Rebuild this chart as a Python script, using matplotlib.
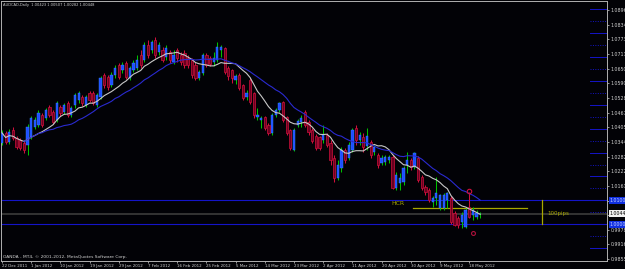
import numpy as np
import pandas as pd
import matplotlib
matplotlib.use("Agg")
import matplotlib.pyplot as plt
import matplotlib.transforms as mtransforms
from matplotlib import font_manager

# AUDCAD, Daily
opens = [
    1.0340, 1.0382, 1.0344, 1.0395, 1.0361, 1.0353, 1.0340, 1.0332, 1.0365, 1.0407,
    1.0416, 1.0457, 1.0445, 1.0491, 1.0470, 1.0436, 1.0491, 1.0470, 1.0507, 1.0457,
    1.0499, 1.0520, 1.0533, 1.0499, 1.0549, 1.0549, 1.0499, 1.0533, 1.0624, 1.0616,
    1.0583, 1.0624, 1.0666, 1.0645, 1.0675, 1.0612, 1.0645, 1.0654, 1.0708, 1.0687,
    1.0750, 1.0729, 1.0771, 1.0721, 1.0729, 1.0700, 1.0721, 1.0679, 1.0729, 1.0708,
    1.0716, 1.0696, 1.0687, 1.0666, 1.0612, 1.0633, 1.0708, 1.0696, 1.0679, 1.0687,
    1.0729, 1.0737, 1.0654, 1.0645, 1.0604, 1.0624, 1.0583, 1.0533, 1.0604, 1.0549,
    1.0449, 1.0436, 1.0449, 1.0416, 1.0382, 1.0457, 1.0478, 1.0512, 1.0449, 1.0395,
    1.0311, 1.0416, 1.0428, 1.0470, 1.0428, 1.0395, 1.0370, 1.0365, 1.0353, 1.0374,
    1.0340, 1.0278, 1.0194, 1.0236, 1.0311, 1.0278, 1.0311, 1.0403, 1.0353, 1.0365,
    1.0328, 1.0344, 1.0302, 1.0290, 1.0257, 1.0261, 1.0269, 1.0282, 1.0152, 1.0173,
    1.0177, 1.0248, 1.0269, 1.0240, 1.0278, 1.0198, 1.0156, 1.0144, 1.0094, 1.0110,
    1.0069, 1.0069, 1.0102, 1.0110, 1.0048, 1.0027, 1.0011, 0.9989, 1.0073, 1.0039,
    1.0031, 1.00423,
]
highs = [
    1.0395, 1.0390, 1.0399, 1.0407, 1.0370, 1.0361, 1.0349, 1.0420, 1.0453, 1.0449,
    1.0478, 1.0466, 1.0486, 1.0499, 1.0478, 1.0516, 1.0499, 1.0507, 1.0516, 1.0495,
    1.0549, 1.0558, 1.0541, 1.0541, 1.0558, 1.0558, 1.0549, 1.0620, 1.0633, 1.0624,
    1.0637, 1.0666, 1.0675, 1.0679, 1.0683, 1.0662, 1.0687, 1.0708, 1.0729, 1.0762,
    1.0771, 1.0771, 1.0783, 1.0762, 1.0741, 1.0750, 1.0729, 1.0729, 1.0737, 1.0721,
    1.0729, 1.0708, 1.0696, 1.0679, 1.0645, 1.0716, 1.0716, 1.0704, 1.0721, 1.0762,
    1.0750, 1.0741, 1.0662, 1.0650, 1.0629, 1.0633, 1.0587, 1.0562, 1.0612, 1.0553,
    1.0486, 1.0453, 1.0453, 1.0424, 1.0466, 1.0486, 1.0512, 1.0516, 1.0453, 1.0399,
    1.0403, 1.0441, 1.0457, 1.0478, 1.0436, 1.0403, 1.0378, 1.0370, 1.0416, 1.0382,
    1.0353, 1.0290, 1.0269, 1.0323, 1.0319, 1.0344, 1.0403, 1.0416, 1.0386, 1.0382,
    1.0403, 1.0353, 1.0332, 1.0298, 1.0290, 1.0290, 1.0290, 1.0290, 1.0219, 1.0215,
    1.0244, 1.0302, 1.0278, 1.0302, 1.0286, 1.0206, 1.0165, 1.0152, 1.0119, 1.0198,
    1.0127, 1.0131, 1.0135, 1.0119, 1.0056, 1.0035, 1.0052, 1.0069, 1.0135, 1.0073,
    1.0060, 1.00507,
]
lows = [
    1.0332, 1.0336, 1.0336, 1.0353, 1.0315, 1.0311, 1.0298, 1.0290, 1.0357, 1.0399,
    1.0407, 1.0407, 1.0436, 1.0449, 1.0420, 1.0428, 1.0453, 1.0461, 1.0449, 1.0449,
    1.0486, 1.0507, 1.0495, 1.0491, 1.0512, 1.0499, 1.0491, 1.0524, 1.0570, 1.0562,
    1.0574, 1.0612, 1.0608, 1.0633, 1.0608, 1.0604, 1.0637, 1.0645, 1.0654, 1.0679,
    1.0696, 1.0716, 1.0696, 1.0708, 1.0679, 1.0687, 1.0675, 1.0670, 1.0679, 1.0666,
    1.0654, 1.0654, 1.0612, 1.0604, 1.0604, 1.0624, 1.0658, 1.0662, 1.0662, 1.0679,
    1.0700, 1.0629, 1.0604, 1.0591, 1.0587, 1.0562, 1.0520, 1.0520, 1.0503, 1.0445,
    1.0436, 1.0403, 1.0395, 1.0374, 1.0374, 1.0449, 1.0470, 1.0428, 1.0374, 1.0311,
    1.0307, 1.0407, 1.0407, 1.0407, 1.0374, 1.0340, 1.0311, 1.0311, 1.0340, 1.0323,
    1.0248, 1.0177, 1.0186, 1.0219, 1.0257, 1.0269, 1.0302, 1.0332, 1.0332, 1.0302,
    1.0311, 1.0278, 1.0290, 1.0236, 1.0248, 1.0248, 1.0257, 1.0148, 1.0144, 1.0144,
    1.0165, 1.0215, 1.0227, 1.0232, 1.0177, 1.0144, 1.0123, 1.0094, 1.0073, 1.0081,
    1.0060, 1.0060, 1.0069, 1.0002, 0.9994, 0.9985, 0.9985, 0.9985, 1.0027, 1.0020,
    1.0023, 1.00282,
]
closes = [
    1.0382, 1.0344, 1.0386, 1.0361, 1.0323, 1.0319, 1.0311, 1.0407, 1.0445, 1.0436,
    1.0466, 1.0416, 1.0478, 1.0457, 1.0428, 1.0507, 1.0466, 1.0499, 1.0457, 1.0486,
    1.0541, 1.0549, 1.0507, 1.0533, 1.0520, 1.0507, 1.0541, 1.0612, 1.0583, 1.0574,
    1.0624, 1.0654, 1.0616, 1.0666, 1.0616, 1.0654, 1.0675, 1.0687, 1.0666, 1.0750,
    1.0708, 1.0762, 1.0708, 1.0750, 1.0687, 1.0737, 1.0687, 1.0708, 1.0696, 1.0679,
    1.0666, 1.0666, 1.0624, 1.0612, 1.0637, 1.0708, 1.0666, 1.0670, 1.0696, 1.0741,
    1.0741, 1.0637, 1.0620, 1.0612, 1.0620, 1.0570, 1.0528, 1.0549, 1.0512, 1.0457,
    1.0457, 1.0445, 1.0403, 1.0382, 1.0457, 1.0478, 1.0507, 1.0436, 1.0382, 1.0319,
    1.0395, 1.0432, 1.0445, 1.0416, 1.0386, 1.0349, 1.0319, 1.0319, 1.0374, 1.0332,
    1.0269, 1.0194, 1.0248, 1.0311, 1.0269, 1.0332, 1.0395, 1.0353, 1.0374, 1.0323,
    1.0370, 1.0290, 1.0323, 1.0248, 1.0278, 1.0282, 1.0282, 1.0152, 1.0206, 1.0194,
    1.0236, 1.0269, 1.0240, 1.0298, 1.0186, 1.0152, 1.0135, 1.0102, 1.0110, 1.0131,
    1.0123, 1.0123, 1.0131, 1.0011, 0.9998, 0.9998, 1.0039, 1.0060, 1.0031, 1.0060,
    1.0048, 1.00448,
]

date_labels = [
    "22 Dec 2011", "1 Jan 2012", "10 Jan 2012", "19 Jan 2012", "29 Jan 2012",
    "7 Feb 2012", "16 Feb 2012", "25 Feb 2012", "5 Mar 2012", "14 Mar 2012",
    "23 Mar 2012", "2 Apr 2012", "11 Apr 2012", "20 Apr 2012", "30 Apr 2012",
    "9 May 2012", "18 May 2012",
]
date_label_bars = [0, 8, 16, 24, 32, 40, 48, 56, 64, 72, 80, 88, 96, 104, 112, 120, 128]

price_ticks = [
    1.08960, 1.08345, 1.07730, 1.07115, 1.06500, 1.05900, 1.05285, 1.04670, 1.04055,
    1.03440, 1.02825, 1.02225, 1.01610, 1.00995, 1.00380, 0.99780, 0.99165, 0.98550,
]
round_levels = np.round(np.arange(0.9900, 1.0901, 0.0050), 4)   # 50-pip level marks
range_top, range_bottom = 1.0100, 1.0000                        # 100 pip box
hcr_price, hcr_start, hcr_end = 1.0068, 112.6, 143.8
fractal_up_bar, fractal_down_bar = 128, 129

BG = "#020206"
FG = "#d0d0d0"
AXIS = "#b0b0b0"
BULL_WICK = "#00c000"
BULL_BODY = "#1e4cff"
BEAR_WICK = "#d0103c"
BEAR_BODY = "#6a0020"
MA_FAST = "#c8c8c8"
MA_SLOW = "#2a2ad0"
LEVEL = "#1414c8"
YELLOW = "#a8a800"

names = {f.name for f in font_manager.fontManager.ttflist}
FONT = "Liberation Sans Narrow" if "Liberation Sans Narrow" in names else "DejaVu Sans"
plt.rcParams["font.family"] = FONT
FS_Y = 3.4
FS_X = 2.9

o = np.array(opens)
h = np.array(highs)
l = np.array(lows)
c = np.array(closes)
x = np.arange(len(c))
up = c >= o

cs = pd.Series(closes)
ma_fast = cs.rolling(10, min_periods=1).mean()
ma_slow = cs.rolling(20, min_periods=7).mean()

fig = plt.figure(figsize=(6.25, 2.69), dpi=100, facecolor=BG)
ax = fig.add_axes([1 / 625, 8 / 269, 606 / 625, 260 / 269], facecolor=BG)
ax.set_xlim(-0.27, 165.75)
ax.set_ylim(0.98466, 1.09336)

# round-number levels: short marks at the right edge, two of them full width
for lv in round_levels:
    solid = abs(lv * 100 - round(lv * 100)) < 1e-6
    if lv in (range_top, range_bottom):
        ax.axhline(lv, color=LEVEL, lw=0.8, zorder=1)
    else:
        ax.plot([161.0, 165.75], [lv, lv], color=LEVEL, lw=0.7,
                ls="-" if solid else (0, (1, 1.5)), zorder=1)

# bid line
ax.axhline(closes[-1], color="#3c3c3c", lw=1.2, zorder=1)

# candles
ax.vlines(x[up], l[up], h[up], color=BULL_WICK, lw=0.75, zorder=3)
ax.vlines(x[~up], l[~up], h[~up], color=BEAR_WICK, lw=0.75, zorder=3)
body_lo = np.minimum(o, c)
body_h = np.maximum(np.abs(c - o), 0.00025)
ax.bar(x[up], body_h[up], bottom=body_lo[up], width=0.62, color=BULL_BODY,
       edgecolor="#3a8aff", lw=0.3, zorder=4)
ax.bar(x[~up], body_h[~up], bottom=body_lo[~up], width=0.62, color=BEAR_BODY,
       edgecolor=BEAR_WICK, lw=0.5, zorder=4)

# moving averages
ax.plot(x, ma_fast, color=MA_FAST, lw=0.8, zorder=5)
ax.plot(x, ma_slow, color=MA_SLOW, lw=0.8, zorder=5)

# HCR line and 100 pips marker
ax.plot([hcr_start, hcr_end], [hcr_price, hcr_price], color=YELLOW, lw=0.9, zorder=2)
ax.text(hcr_start - 5.8, hcr_price + 0.0008, "HCR", color=YELLOW, fontsize=4.4,
        ha="left", va="bottom")
ax.plot([147.9, 147.9], [range_bottom, range_top], color=YELLOW, lw=0.9, zorder=2)
ax.text(149.4, (range_top + range_bottom) / 2 - 0.0005, "100pips", color=YELLOW,
        fontsize=4.0, ha="left", va="center")

# fractal marks
ax.plot(fractal_up_bar, highs[fractal_up_bar] + 0.0003, marker="o", ms=3.2,
        mfc="none", mec="#d0103c", mew=0.8, zorder=6)
ax.plot(fractal_down_bar, lows[fractal_down_bar] - 0.0055, marker="o", ms=2.8,
        mfc="none", mec="#b0103c", mew=0.8, zorder=6)

# axes styling
for side in ["left", "top", "right", "bottom"]:
    ax.spines[side].set_color(AXIS)
    ax.spines[side].set_linewidth(0.7)

ax.yaxis.tick_right()
ax.set_yticks(price_ticks)
ax.set_yticklabels([f"{v:.5f}" for v in price_ticks])
ax.set_xticks(date_label_bars)
ax.set_xticklabels(date_labels)
for lbl in ax.get_xticklabels():
    lbl.set_ha("left")
ax.tick_params(axis="both", colors=AXIS, labelcolor=FG, length=1.6, width=0.6, pad=0.8)
ax.tick_params(axis="y", labelsize=FS_Y)
ax.tick_params(axis="x", labelsize=FS_X)

# price boxes on the right axis
trans = mtransforms.blended_transform_factory(ax.transAxes, ax.transData)
for val, fc, tc in [(range_top, "#1030e0", "#c8d0ff"), (range_bottom, "#1030e0", "#c8d0ff"),
                    (closes[-1], "#f0f0f0", "#000000")]:
    ax.text(1.004, val, f"{val:.5f}", transform=trans, fontsize=FS_Y, color=tc,
            ha="left", va="center", clip_on=False, zorder=10,
            bbox=dict(boxstyle="square,pad=0.15", fc=fc, ec="none"))

ax.text(0.003, 0.992, "AUDCAD,Daily  1.00423 1.00507 1.00282 1.00448",
        transform=ax.transAxes, color=FG, fontsize=2.6, ha="left", va="top")
ax.text(0.003, 0.008, "OANDA - MT4, \u00a9 2001-2012, MetaQuotes Software Corp.",
        transform=ax.transAxes, color=FG, fontsize=3.2, ha="left", va="bottom")

fig.savefig("out.png", dpi=100, facecolor=BG)
